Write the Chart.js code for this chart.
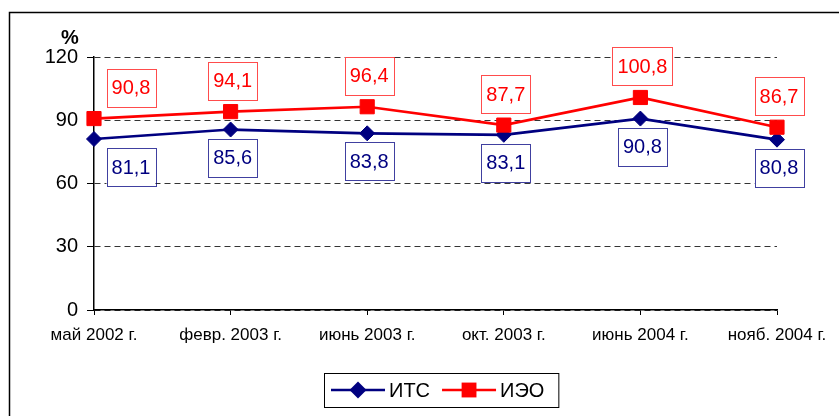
<!DOCTYPE html>
<html><head><meta charset="utf-8">
<script src="https://cdn.jsdelivr.net/npm/chart.js@4.4.0/dist/chart.umd.min.js"></script>
<style>html,body{margin:0;padding:0;background:#fff;overflow:hidden;}#wrap{width:839px;height:416px;position:relative;}</style>
</head><body><div id="wrap"><canvas id="c" width="839" height="416"></canvas></div>
<script>
const categories = ['май 2002 г.', 'февр. 2003 г.', 'июнь 2003 г.', 'окт. 2003 г.', 'июнь 2004 г.', 'нояб. 2004 г.'];
const itsValues = [81.1, 85.6, 83.8, 83.1, 90.8, 80.8];
const ieoValues = [90.8, 94.1, 96.4, 87.7, 100.8, 86.7];
const yTickValues = [0, 30, 60, 90, 120];
const seriesNames = ['ИТС', 'ИЭО'];
const unitLabel = '%';

const FONT = "'Liberation Sans', Arial, sans-serif";
const BLUE = '#000080';
const RED = '#FF0000';
const fmt = v => v.toFixed(1).replace('.', ',');

const framePlugin = {
  id: 'frame',
  beforeDraw(chart) {
    const ctx = chart.ctx;
    ctx.save();
    ctx.fillStyle = '#fff';
    ctx.fillRect(0, 0, chart.width, chart.height);
    ctx.strokeStyle = '#000';
    ctx.lineWidth = 1.5;
    ctx.strokeRect(9.5, 12.5, 1000, 1000);
    ctx.restore();
  },
  afterDraw(chart) {
    const ctx = chart.ctx;
    ctx.save();
    ctx.font = 'bold 20px ' + FONT;
    ctx.fillStyle = '#000';
    ctx.textAlign = 'center';
    ctx.textBaseline = 'middle';
    ctx.fillText(unitLabel, 70, 38);
    ctx.font = '20px ' + FONT;
    const lx = 324, ly = 373, lh = 34, cy = ly + lh / 2;
    let x = lx + 7;
    const items = [
      {name: seriesNames[0], color: BLUE, style: 'rectRot', r: 8.5},
      {name: seriesNames[1], color: RED, style: 'rect', r: 10.5}
    ];
    items.forEach((it) => {
      ctx.strokeStyle = it.color;
      ctx.lineWidth = 2.7;
      ctx.beginPath();
      ctx.moveTo(x, cy); ctx.lineTo(x + 54, cy); ctx.stroke();
      ctx.fillStyle = it.color;
      ctx.beginPath();
      if (it.style === 'rect') { const s = it.r * Math.SQRT1_2; ctx.rect(x + 27 - s, cy - s, 2 * s, 2 * s); }
      else { ctx.moveTo(x + 27 - it.r, cy); ctx.lineTo(x + 27, cy - it.r); ctx.lineTo(x + 27 + it.r, cy); ctx.lineTo(x + 27, cy + it.r); ctx.closePath(); }
      ctx.fill();
      x += 58;
      ctx.fillStyle = '#000';
      ctx.textAlign = 'left';
      ctx.textBaseline = 'middle';
      ctx.fillText(it.name, x, cy + 1);
      x += ctx.measureText(it.name).width + 12;
    });
    const lw = x + 2 - lx;
    ctx.strokeStyle = '#000';
    ctx.lineWidth = 1;
    ctx.strokeRect(lx + 0.5, ly + 0.5, lw, lh);
    ctx.restore();
  }
};

const labelPlugin = {
  id: 'valueLabels',
  afterDatasetsDraw(chart) {
    const ctx = chart.ctx;
    ctx.save();
    ctx.font = '20px ' + FONT;
    ctx.textAlign = 'center';
    ctx.textBaseline = 'middle';
    chart.data.datasets.forEach((ds, di) => {
      const meta = chart.getDatasetMeta(di);
      const above = ds.labelAbove;
      meta.data.forEach((pt, i) => {
        const txt = fmt(ds.data[i]);
        const w = ctx.measureText(txt).width + 10;
        const h = 38;
        const cx = pt.x + (i === 0 ? 37 : 2);
        const cyy = pt.y + (above ? -31 : 28);
        ctx.fillStyle = '#fff';
        ctx.fillRect(cx - w / 2, cyy - h / 2, w, h);
        ctx.strokeStyle = ds.labelBorder;
        ctx.lineWidth = 1;
        ctx.strokeRect(Math.round(cx - w / 2) + 0.5, Math.round(cyy - h / 2) + 0.5, Math.round(w), h);
        ctx.fillStyle = ds.borderColor;
        ctx.fillText(txt, cx, cyy + 1);
      });
    });
    ctx.restore();
  }
};

new Chart(document.getElementById('c'), {
  type: 'line',
  data: {
    labels: categories,
    datasets: [
      {label: seriesNames[0], data: itsValues, borderColor: BLUE, backgroundColor: BLUE,
       borderWidth: 2.7, pointStyle: 'rectRot', pointRadius: 7.5, pointBorderWidth: 1,
       pointHoverRadius: 7.5, tension: 0, order: 1, labelAbove: false, labelBorder: 'rgba(0,0,128,0.75)'},
      {label: seriesNames[1], data: ieoValues, borderColor: RED, backgroundColor: RED,
       borderWidth: 2.7, pointStyle: 'rect', pointRadius: 10, pointBorderWidth: 1,
       pointHoverRadius: 10, tension: 0, order: 0, labelAbove: true, labelBorder: 'rgba(255,0,0,0.7)'}
    ]
  },
  options: {
    responsive: false,
    animation: false,
    events: [],
    layout: {padding: {left: 0, right: 62, top: 57, bottom: 0}},
    plugins: {legend: {display: false}, tooltip: {enabled: false}},
    scales: {
      x: {
        offset: false,
        afterFit: s => { s.height = 106; },
        grid: {drawOnChartArea: false, drawTicks: true, tickLength: 5, color: '#000', tickColor: '#000'},
        border: {display: true, color: '#000', width: 1.5},
        ticks: {autoSkip: false, maxRotation: 0, padding: 10, color: '#000', font: {family: FONT, size: 17}}
      },
      y: {
        min: 0, max: 120,
        afterFit: s => { s.width = 94; },
        afterBuildTicks: s => { s.ticks = yTickValues.map(v => ({value: v})); },
        grid: {color: '#333', lineWidth: 1, tickLength: 7, tickColor: '#000', tickBorderDash: [], drawTicks: true},
        border: {display: true, color: '#000', width: 1.5, dash: [6, 4]},
        ticks: {padding: 9, color: '#000', font: {family: FONT, size: 20}}
      }
    }
  },
  plugins: [framePlugin, labelPlugin]
});
</script></body></html>
